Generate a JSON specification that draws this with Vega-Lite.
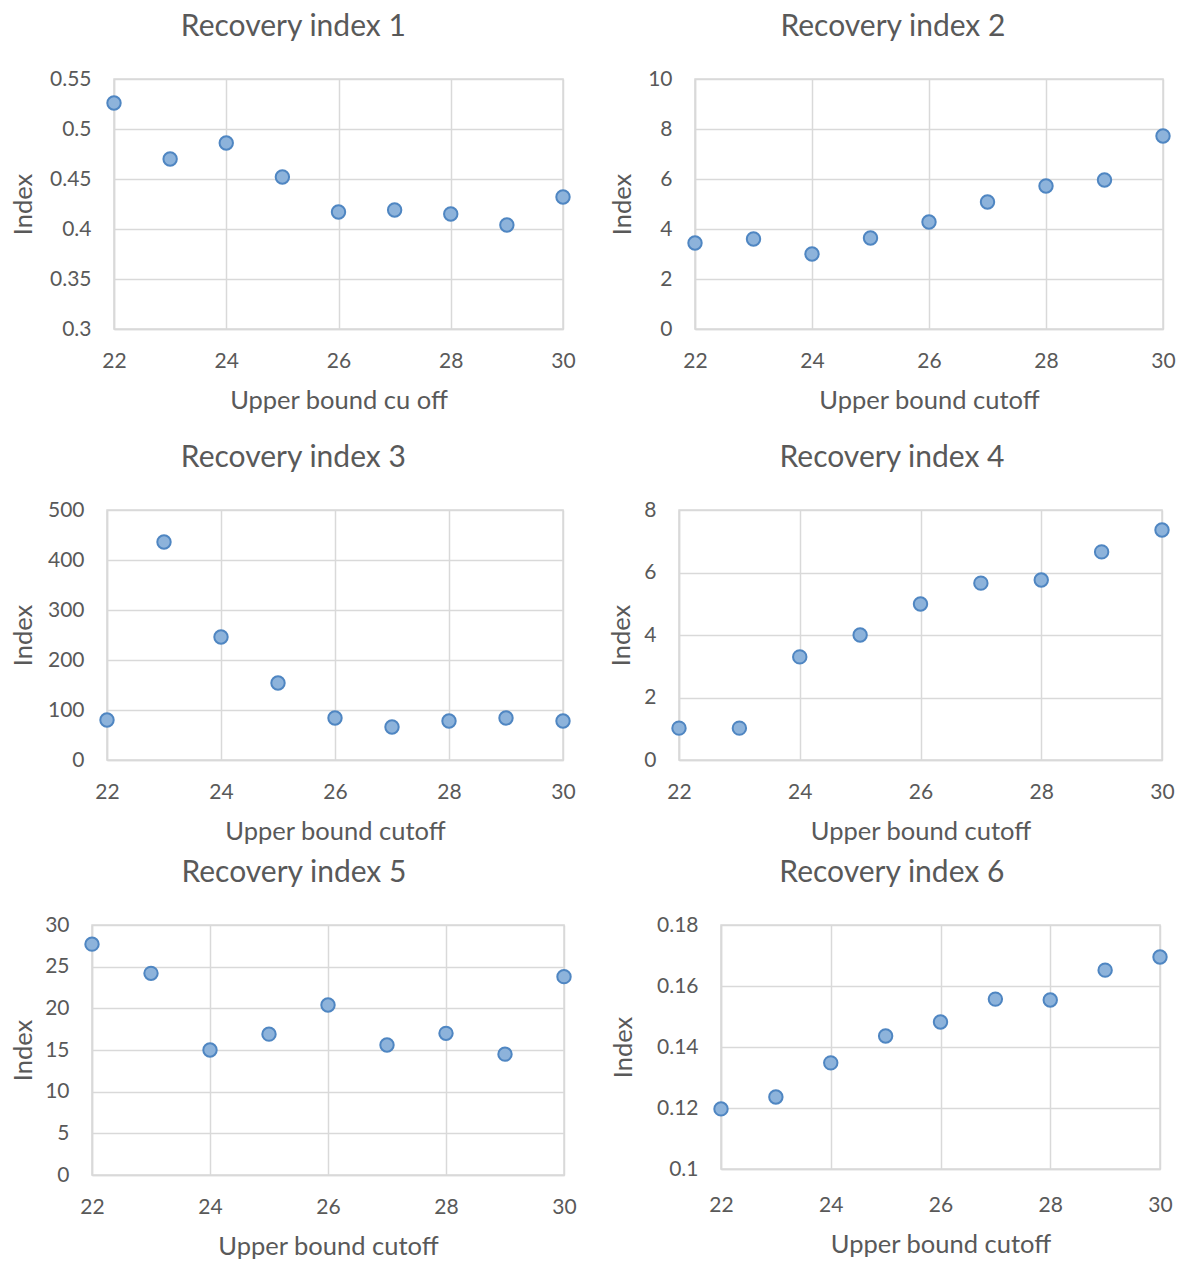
{
  "$schema": "https://vega.github.io/schema/vega-lite/v6.json",
  "background": "white",
  "padding": {"left": -24, "top": 11, "right": 5, "bottom": 5},
  "config": {
    "font": "Lato",
    "view": {"stroke": "#D9D9D9", "strokeWidth": 1.5},
    "axis": {
      "gridColor": "#D9D9D9", "gridWidth": 1.5, "domainColor": "#D9D9D9", "domainWidth": 1.5,
      "ticks": false, "labelFont": "Lato", "labelFontSize": 21, "labelColor": "#595959",
      "titleFont": "Lato", "titleFontSize": 25.5, "titleColor": "#595959", "titleFontWeight": "normal",
      "labelOverlap": false, "labelFlush": false, "format": "~r"
    },
    "axisX": {"labelPadding": 21, "titlePadding": 17},
    "axisY": {"labelPadding": 23},
    "title": {"font": "Lato", "fontSize": 30, "fontWeight": "normal", "color": "#595959", "frame": "bounds", "anchor": "middle", "offset": 26},
    "point": {"filled": true, "fill": "#8DB3DB", "stroke": "#4F86C2", "strokeWidth": 2, "size": 180, "opacity": 1}
  },
  "datasets": {
    "ri1": [{"cutoff": 22, "index": 0.526}, {"cutoff": 23, "index": 0.470}, {"cutoff": 24, "index": 0.486}, {"cutoff": 25, "index": 0.452}, {"cutoff": 26, "index": 0.417}, {"cutoff": 27, "index": 0.419}, {"cutoff": 28, "index": 0.415}, {"cutoff": 29, "index": 0.404}, {"cutoff": 30, "index": 0.432}],
    "ri2": [{"cutoff": 22, "index": 3.44}, {"cutoff": 23, "index": 3.6}, {"cutoff": 24, "index": 3.0}, {"cutoff": 25, "index": 3.64}, {"cutoff": 26, "index": 4.28}, {"cutoff": 27, "index": 5.08}, {"cutoff": 28, "index": 5.72}, {"cutoff": 29, "index": 5.96}, {"cutoff": 30, "index": 7.72}],
    "ri3": [{"cutoff": 22, "index": 80}, {"cutoff": 23, "index": 436}, {"cutoff": 24, "index": 246}, {"cutoff": 25, "index": 154}, {"cutoff": 26, "index": 84}, {"cutoff": 27, "index": 66}, {"cutoff": 28, "index": 78}, {"cutoff": 29, "index": 84}, {"cutoff": 30, "index": 78}],
    "ri4": [{"cutoff": 22, "index": 1.02}, {"cutoff": 23, "index": 1.02}, {"cutoff": 24, "index": 3.3}, {"cutoff": 25, "index": 4.0}, {"cutoff": 26, "index": 4.99}, {"cutoff": 27, "index": 5.66}, {"cutoff": 28, "index": 5.76}, {"cutoff": 29, "index": 6.66}, {"cutoff": 30, "index": 7.36}],
    "ri5": [{"cutoff": 22, "index": 27.7}, {"cutoff": 23, "index": 24.2}, {"cutoff": 24, "index": 15.0}, {"cutoff": 25, "index": 16.9}, {"cutoff": 26, "index": 20.4}, {"cutoff": 27, "index": 15.6}, {"cutoff": 28, "index": 17.0}, {"cutoff": 29, "index": 14.5}, {"cutoff": 30, "index": 23.8}],
    "ri6": [{"cutoff": 22, "index": 0.1197}, {"cutoff": 23, "index": 0.1236}, {"cutoff": 24, "index": 0.1348}, {"cutoff": 25, "index": 0.1436}, {"cutoff": 26, "index": 0.1482}, {"cutoff": 27, "index": 0.1557}, {"cutoff": 28, "index": 0.1554}, {"cutoff": 29, "index": 0.1652}, {"cutoff": 30, "index": 0.1695}],
    "none": []
  },
  "columns": 1,
  "align": "none",
  "spacing": 27,
  "concat": [
    {"columns": 3, "align": "none", "spacing": 33, "concat": [
      {"width": 1, "height": 1, "view": {"stroke": null}, "data": {"name": "none"}, "mark": "point", "encoding": {}},
      {"title": "Recovery index 1", "width": 449, "height": 250, "data": {"name": "ri1"}, "mark": "point",
       "encoding": {
         "x": {"field": "cutoff", "type": "quantitative", "scale": {"domain": [22, 30], "nice": false, "zero": false}, "axis": {"values": [22, 24, 26, 28, 30], "title": "Upper bound cu off"}},
         "y": {"field": "index", "type": "quantitative", "scale": {"domain": [0.3, 0.55], "nice": false, "zero": false}, "axis": {"values": [0.3, 0.35, 0.4, 0.45, 0.5, 0.55], "title": "Index", "titlePadding": 13}}}},
      {"title": "Recovery index 2", "width": 468, "height": 250, "data": {"name": "ri2"}, "mark": "point",
       "encoding": {
         "x": {"field": "cutoff", "type": "quantitative", "scale": {"domain": [22, 30], "nice": false, "zero": false}, "axis": {"values": [22, 24, 26, 28, 30], "title": "Upper bound cutoff"}},
         "y": {"field": "index", "type": "quantitative", "scale": {"domain": [0, 10], "nice": false, "zero": false}, "axis": {"values": [0, 2, 4, 6, 8, 10], "title": "Index", "titlePadding": 12}}}}
    ]},
    {"columns": 1, "align": "none", "spacing": 11, "concat": [
      {"columns": 3, "align": "none", "spacing": 33, "concat": [
        {"width": 1, "height": 1, "view": {"stroke": null}, "data": {"name": "none"}, "mark": "point", "encoding": {}},
        {"title": "Recovery index 3", "width": 456, "height": 250, "data": {"name": "ri3"}, "mark": "point",
         "encoding": {
           "x": {"field": "cutoff", "type": "quantitative", "scale": {"domain": [22, 30], "nice": false, "zero": false}, "axis": {"values": [22, 24, 26, 28, 30], "title": "Upper bound cutoff"}},
           "y": {"field": "index", "type": "quantitative", "scale": {"domain": [0, 500], "nice": false, "zero": false}, "axis": {"values": [0, 100, 200, 300, 400, 500], "title": "Index", "titlePadding": 11}}}},
        {"title": "Recovery index 4", "width": 483, "height": 250, "data": {"name": "ri4"}, "mark": "point",
         "encoding": {
           "x": {"field": "cutoff", "type": "quantitative", "scale": {"domain": [22, 30], "nice": false, "zero": false}, "axis": {"values": [22, 24, 26, 28, 30], "title": "Upper bound cutoff"}},
           "y": {"field": "index", "type": "quantitative", "scale": {"domain": [0, 8], "nice": false, "zero": false}, "axis": {"values": [0, 2, 4, 6, 8], "title": "Index", "titlePadding": 9}}}}
      ]},
      {"columns": 3, "align": "none", "spacing": 33, "concat": [
        {"width": 1, "height": 1, "view": {"stroke": null}, "data": {"name": "none"}, "mark": "point", "encoding": {}},
        {"title": "Recovery index 5", "width": 472, "height": 250, "data": {"name": "ri5"}, "mark": "point",
         "encoding": {
           "x": {"field": "cutoff", "type": "quantitative", "scale": {"domain": [22, 30], "nice": false, "zero": false}, "axis": {"values": [22, 24, 26, 28, 30], "title": "Upper bound cutoff"}},
           "y": {"field": "index", "type": "quantitative", "scale": {"domain": [0, 30], "nice": false, "zero": false}, "axis": {"values": [0, 5, 10, 15, 20, 25, 30], "title": "Index", "titlePadding": 8}}}},
        {"title": "Recovery index 6", "width": 439, "height": 244, "data": {"name": "ri6"}, "mark": "point",
         "encoding": {
           "x": {"field": "cutoff", "type": "quantitative", "scale": {"domain": [22, 30], "nice": false, "zero": false}, "axis": {"values": [22, 24, 26, 28, 30], "title": "Upper bound cutoff", "labelPadding": 25}},
           "y": {"field": "index", "type": "quantitative", "scale": {"domain": [0.1, 0.18], "nice": false, "zero": false}, "axis": {"values": [0.1, 0.12, 0.14, 0.16, 0.18], "title": "Index", "titlePadding": 20}}}}
      ]}
    ]}
  ]
}
